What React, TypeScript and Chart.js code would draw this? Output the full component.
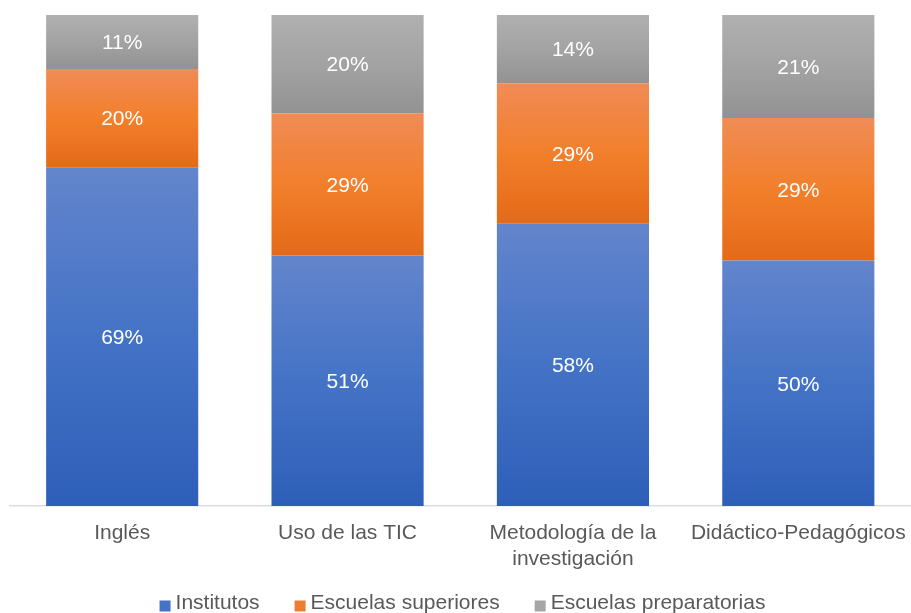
import React, { useEffect, useRef } from "react";
import { Chart, registerables } from "chart.js";

Chart.register(...registerables);

const categories: (string | string[])[] = [
  "Inglés",
  "Uso de las TIC",
  ["Metodología de la", "investigación"],
  "Didáctico-Pedagógicos",
];
const seriesNames = ["Institutos", "Escuelas superiores", "Escuelas preparatorias"];
const institutos = [69, 51, 57.6, 50];
const superiores = [20, 29, 28.5, 29];
const preparatorias = [11, 20, 13.9, 21];

const gradients = [
  ["#6385cc", "#4473c6", "#2e5fb8"],
  ["#f08c56", "#f27f2b", "#e46a18"],
  ["#b0b0b0", "#a3a3a3", "#929292"],
];
const legendColors = ["#4472c4", "#ed7d31", "#a5a5a5"];
const FONT = "'Liberation Sans', Arial, sans-serif";

export default function App() {
  const ref = useRef<HTMLCanvasElement>(null);

  useEffect(() => {
    const canvas = ref.current!;
    const seriesValues = [institutos, superiores, preparatorias];

    const makeBg = (di: number) => (ctx: any) => {
      const chart = ctx.chart;
      const y = chart.scales && chart.scales.y;
      if (ctx.type !== "data" || !y || !chart.ctx) return legendColors[di];
      let base = 0;
      for (let k = 0; k < di; k++) base += seriesValues[k][ctx.dataIndex];
      const top = base + seriesValues[di][ctx.dataIndex];
      const y0 = y.getPixelForValue(base);
      const y1 = y.getPixelForValue(top);
      if (!isFinite(y0) || !isFinite(y1) || y0 === y1) return legendColors[di];
      const g = chart.ctx.createLinearGradient(0, y1, 0, y0);
      g.addColorStop(0, gradients[di][0]);
      g.addColorStop(0.5, gradients[di][1]);
      g.addColorStop(1, gradients[di][2]);
      return g;
    };

    const labelPlugin = {
      id: "segLabels",
      afterDatasetsDraw(chart: any) {
        const c = chart.ctx;
        c.save();
        c.font = `21px ${FONT}`;
        c.fillStyle = "#ffffff";
        c.textAlign = "center";
        c.textBaseline = "middle";
        chart.data.datasets.forEach((ds: any, di: number) => {
          const meta = chart.getDatasetMeta(di);
          meta.data.forEach((el: any, i: number) => {
            const v = ds.data[i];
            c.fillText(Math.round(v) + "%", el.x, (el.y + el.base) / 2 + 1.5);
          });
        });
        c.restore();
      },
    };

    const legendPlugin = {
      id: "customLegend",
      afterDraw(chart: any) {
        const c = chart.ctx;
        c.save();
        c.font = `21px ${FONT}`;
        c.textBaseline = "middle";
        c.textAlign = "left";
        const box = 11;
        const gap = 5;
        const spacing = 35;
        const widths = seriesNames.map((n) => box + gap + c.measureText(n).width);
        const total = widths.reduce((a, b) => a + b, 0) + spacing * (seriesNames.length - 1);
        let x = chart.width / 2 + 7 - total / 2;
        const yc = 603;
        seriesNames.forEach((n, i) => {
          c.fillStyle = legendColors[i];
          c.fillRect(x, 600.5, box, box);
          c.fillStyle = "#595959";
          c.fillText(n, x + box + gap, yc);
          x += widths[i] + spacing;
        });
        c.restore();
      },
    };

    const chart = new Chart(canvas, {
      type: "bar",
      data: {
        labels: categories,
        datasets: seriesValues.map((vals, di) => ({
          label: seriesNames[di],
          data: vals,
          backgroundColor: makeBg(di),
          borderWidth: 0,
          categoryPercentage: 1,
          barPercentage: 0.675,
          stack: "s",
        })),
      },
      options: {
        animation: false,
        responsive: false,
        maintainAspectRatio: false,
        layout: { padding: { top: 15, left: 9.5, right: 0, bottom: 32 } },
        plugins: {
          legend: { display: false },
          tooltip: { enabled: false },
        },
        scales: {
          x: {
            stacked: true,
            grid: { display: false },
            border: { display: true, color: "#d9dde3", width: 1.5 },
            ticks: {
              color: "#595959",
              font: { family: FONT, size: 21 },
              padding: 7,
              maxRotation: 0,
              autoSkip: false,
            },
            afterFit(scale: any) {
              scale.paddingLeft = 0;
              scale.paddingRight = 0;
              scale.height = 75;
            },
          },
          y: {
            stacked: true,
            display: false,
            min: 0,
            max: 100,
          },
        },
      },
      plugins: [labelPlugin, legendPlugin],
    });
    return () => chart.destroy();
  }, []);

  return (
    <div style={{ position: "fixed", left: 0, top: 0, width: 911, height: 613, background: "#ffffff" }}>
      <canvas ref={ref} width={911} height={613} style={{ display: "block", width: 911, height: 613 }} />
    </div>
  );
}
